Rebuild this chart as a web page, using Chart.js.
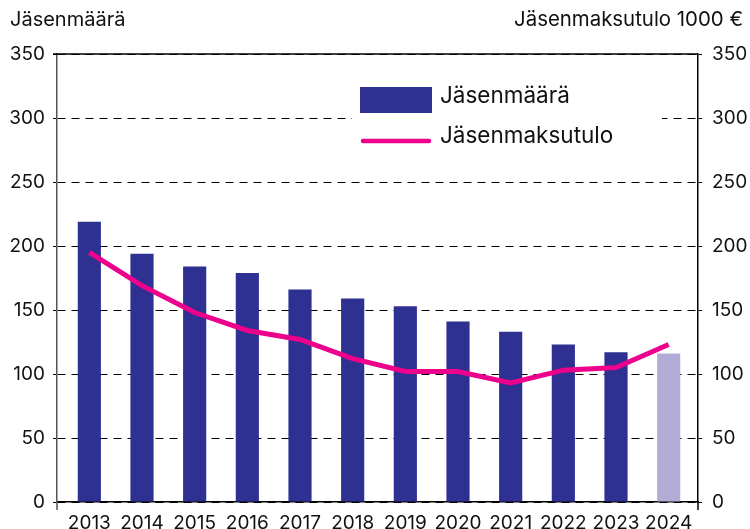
<!DOCTYPE html>
<html>
<head>
<meta charset="utf-8">
<script src="https://cdn.jsdelivr.net/npm/chart.js@4"></script>
<style>
  body { margin: 0; background: #fff; }
  #wrap { width: 750px; height: 529px; }
</style>
</head>
<body>
<div id="wrap"><canvas id="memberChart" width="750" height="529"></canvas></div>
<script>
const years = ['2013','2014','2015','2016','2017','2018','2019','2020','2021','2022','2023','2024'];
const members = [219, 194, 184, 179, 166, 159, 153, 141, 133, 123, 117, 116];
const feeIncome = [195, 169, 148, 134, 127, 112, 102, 102, 93, 103, 105, 123];
const axisTicks = [0, 50, 100, 150, 200, 250, 300, 350];
const leftTitle = 'Jäsenmäärä';
const rightTitle = 'Jäsenmaksutulo 1000 €';

const FONT = 'Inter';
const DARK = '#2e3192';
const LIGHT = '#b1acd6';
const PINK = '#ec008c';

// titles, solid top line and the legend box drawn over the plot
const overlay = {
  id: 'overlay',
  afterLayout(chart) {
    // the categories sit a little inside the frame
    const x = chart.scales.x;
    const a = chart.chartArea;
    x._startPixel = a.left + 6;
    x._endPixel = a.right - 3;
    x._length = x._endPixel - x._startPixel;
  },
  afterDraw(chart) {
    const c = chart.ctx;
    const a = chart.chartArea;
    const y = chart.scales.y;
    c.save();
    c.fillStyle = '#111';
    c.font = `20px ${FONT}`;
    c.textBaseline = 'alphabetic';
    c.textAlign = 'left';
    c.fillText(leftTitle, 10, 26);
    c.textAlign = 'right';
    c.font = `20.4px ${FONT}`;
    c.fillText(rightTitle, 743, 26);

    const top = y.getPixelForValue(axisTicks[axisTicks.length - 1]);
    c.strokeStyle = '#000';
    c.lineWidth = 1.5;
    c.beginPath();
    c.moveTo(a.left - 4, top);
    c.lineTo(a.right, top);
    c.stroke();

    // little extensions of the axes below the baseline
    c.strokeStyle = '#555';
    c.beginPath();
    c.moveTo(a.left, a.bottom);
    c.lineTo(a.left, a.bottom + 8);
    c.stroke();
    c.strokeStyle = '#000';
    c.beginPath();
    c.moveTo(a.right, a.bottom);
    c.lineTo(a.right, a.bottom + 8);
    c.stroke();

    // legend
    c.fillStyle = '#fff';
    c.fillRect(352, 80, 310, 72);
    const ds = chart.data.datasets;
    c.fillStyle = DARK;
    c.fillRect(360, 87, 72, 26);
    c.strokeStyle = PINK;
    c.lineWidth = 4.5;
    c.lineCap = 'round';
    c.beginPath();
    c.moveTo(363, 141);
    c.lineTo(429, 141);
    c.stroke();
    c.fillStyle = '#111';
    c.font = `22.5px ${FONT}`;
    c.textAlign = 'left';
    c.fillText(ds[0].label, 440, 103);
    c.fillText(ds[1].label, 440, 143);
    c.restore();
  }
};

const ctx = document.getElementById('memberChart').getContext('2d');

new Chart(ctx, {
  type: 'bar',
  data: {
    labels: years,
    datasets: [
      {
        type: 'bar',
        label: 'Jäsenmäärä',
        data: members,
        backgroundColor: members.map((v, i) => i === members.length - 1 ? LIGHT : DARK),
        barPercentage: 0.44,
        categoryPercentage: 1,
        yAxisID: 'y',
        order: 2
      },
      {
        type: 'line',
        label: 'Jäsenmaksutulo',
        data: feeIncome,
        borderColor: PINK,
        borderWidth: 5,
        pointRadius: 0,
        tension: 0,
        fill: false,
        yAxisID: 'y1',
        order: 1
      }
    ]
  },
  options: {
    responsive: false,
    animation: false,
    layout: { padding: { top: 54, left: 0, right: 0, bottom: 0 } },
    plugins: {
      legend: { display: false },
      tooltip: { enabled: false }
    },
    scales: {
      x: {
        offset: true,
        grid: { display: false },
        border: { display: true, color: '#000', width: 1.5 },
        ticks: { color: '#111', font: { family: FONT, size: 19 }, padding: 2, maxRotation: 0, autoSkip: false },
        afterFit: s => { s.height = 27; }
      },
      y: {
        position: 'left',
        min: 0,
        max: 350,
        afterBuildTicks: s => { s.ticks = axisTicks.map(v => ({ value: v })); },
        ticks: { color: '#111', font: { family: FONT, size: 19 }, padding: 8 },
        grid: { color: '#000', lineWidth: 1, tickLength: 4 },
        border: { color: '#555', width: 1.5, dash: [8, 6] },
        afterFit: s => { s.width = 57; }
      },
      y1: {
        position: 'right',
        min: 0,
        max: 350,
        afterBuildTicks: s => { s.ticks = axisTicks.map(v => ({ value: v })); },
        ticks: { color: '#111', font: { family: FONT, size: 19 }, padding: 10 },
        grid: { drawOnChartArea: false, color: '#000', tickLength: 4 },
        border: { color: '#000', width: 1.5 },
        afterFit: s => { s.width = 52; }
      }
    }
  },
  plugins: [overlay]
});
</script>
</body>
</html>
